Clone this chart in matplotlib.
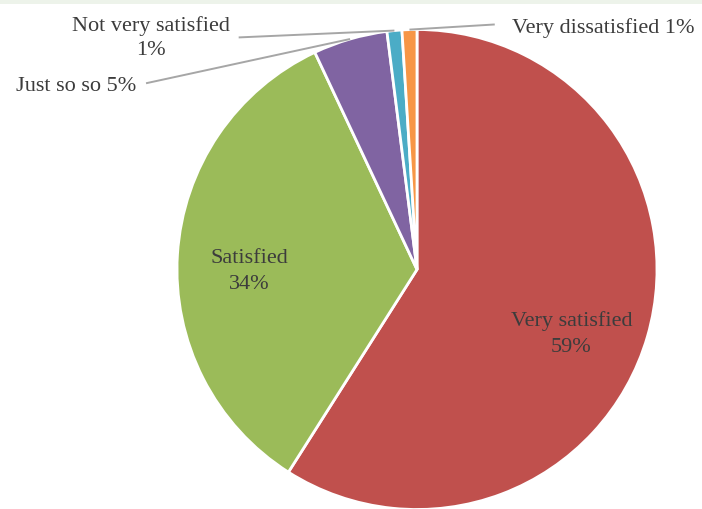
import numpy as np
import matplotlib
matplotlib.use("Agg")
import matplotlib.pyplot as plt
from matplotlib.patches import Rectangle

# ── Survey results ──────────────────────────────────────────────────────
categories = ["Very satisfied", "Satisfied", "Just so so",
              "Not very satisfied", "Very dissatisfied"]
shares = [59, 34, 5, 1, 1]
colors = ["#C0504D", "#9BBB59", "#8064A2", "#4BACC6", "#F79646"]

W, H = 702, 510
CX, CY, R = 417, 270.5, 240  # pie centre / radius in pixels

plt.rcParams["font.family"] = ["Liberation Serif", "DejaVu Serif"]
TEXT_COLOR = "#3C3C3C"
LINE_COLOR = "#A6A6A6"
FS = 16

fig = plt.figure(figsize=(W / 100, H / 100), dpi=100)
fig.patch.set_facecolor("white")

# faint band along the top edge
fig.add_artist(Rectangle((0, 1 - 5 / H), 1, 5 / H, transform=fig.transFigure,
                         facecolor="#EDF3EA", edgecolor="none"))

ax = fig.add_axes([(CX - R) / W, (H - CY - R) / H, 2 * R / W, 2 * R / H])
ax.axis("off")

wedges, _ = ax.pie(shares, colors=colors, startangle=90, counterclock=False,
                   radius=1, wedgeprops=dict(edgecolor="white", linewidth=2))
ax.set_xlim(-1, 1)
ax.set_ylim(-1, 1)


def mid_angle(w):
    return np.deg2rad((w.theta1 + w.theta2) / 2)


# labels inside the two big slices
inside = {0: (0.643, -0.265), 1: (-0.70, -0.004)}
for i, (x, y) in inside.items():
    ax.text(x, y, f"{categories[i]}\n{shares[i]}%", ha="center", va="center",
            fontsize=FS, color=TEXT_COLOR, linespacing=1.5)

# outside labels with leader lines: (text pos, line start, ha, va, text)
outside = {
    2: ((-1.170, 0.768), (-1.129, 0.776), "right", "center",
        f"{categories[2]} {shares[2]}%"),
    3: ((-1.108, 0.968), (-0.743, 0.967), "center", "center",
        f"{categories[3]}\n{shares[3]}%"),
    4: ((0.394, 1.012), (0.324, 1.021), "left", "center",
        f"{categories[4]} {shares[4]}%"),
}
for i, (tpos, lstart, ha, va, label) in outside.items():
    a = mid_angle(wedges[i])
    ex, ey = np.cos(a), np.sin(a)
    ax.plot([lstart[0], ex], [lstart[1], ey], color=LINE_COLOR, lw=1.4,
            clip_on=False, solid_capstyle="butt")
    ax.text(tpos[0], tpos[1], label, ha=ha, va=va, fontsize=FS,
            color=TEXT_COLOR, linespacing=1.35, clip_on=False)

fig.savefig("out.png", dpi=100, facecolor="white")
